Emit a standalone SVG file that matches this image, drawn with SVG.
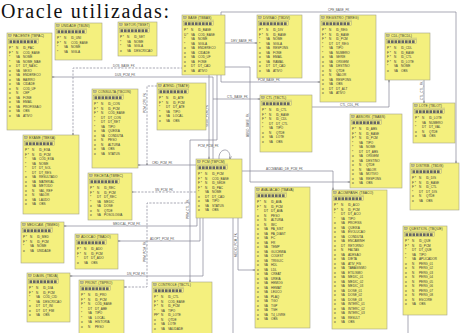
<svg xmlns="http://www.w3.org/2000/svg" xmlns:xlink="http://www.w3.org/1999/xlink" width="468" height="333" viewBox="0 0 468 333">
<style>
.bx{fill:#f4f07e;stroke:#a3a38a;stroke-width:.6}
.ti{font:3.4px "Liberation Sans",sans-serif;fill:#3a3a3a}
.r{font:3.1px "Liberation Sans",sans-serif;fill:#3a3a3a}
.c{fill:none;stroke:#858595;stroke-width:.7}
.d{stroke-dasharray:2.2 1.3}
.lb{font:3px "Liberation Sans",sans-serif;fill:#555}
</style>
<defs>
<marker id="a" viewBox="0 0 6 6" refX="6" refY="3" markerWidth="4" markerHeight="4" orient="auto"><path d="M0 0L6 3L0 6" fill="none" stroke="#666" stroke-width="1"/></marker>
<g id="ic">
<rect x="1.5" y="1.2" width="3" height="2.6" fill="#bdbd90" stroke="#777" stroke-width=".3"/>
<path d="M1.5 5.2H32" stroke="#888" stroke-width=".35"/>
<rect x="1.5" y="6.6" width="30" height="4.2" fill="none" stroke="#888" stroke-width=".35"/>
<g fill="#666"><rect x="2.5" y="7.3" width="2.6" height="2.8"/><rect x="6" y="7.3" width="2.6" height="2.8"/><rect x="9.5" y="7.3" width="2.6" height="2.8"/><rect x="13" y="7.3" width="2.6" height="2.8"/><rect x="16.5" y="7.3" width="2.6" height="2.8"/><rect x="20" y="7.3" width="2.6" height="2.8"/><rect x="23.5" y="7.3" width="2.6" height="2.8"/><rect x="27" y="7.3" width="2.6" height="2.8"/></g>
</g>
</defs>
<rect width="468" height="333" fill="#fff"/>
<text x="1" y="18" textLength="168" lengthAdjust="spacing" style="font:20px 'Liberation Serif',serif" fill="#111">Oracle utilizadas:</text>

<g id="connectors">
<path class="c" marker-end="url(#a)" d="M225 43H257"/><text class="lb" x="231" y="41.5">DEV_BASE_FK</text>
<path class="c" marker-end="url(#a)" d="M221 15V12H456V163"/><text class="lb" x="328" y="10.5">CPE_BASE_FK</text>
<path class="c" marker-end="url(#a)" d="M221 75V82H320"/><text class="lb" x="258" y="80.5">PCM_BASE_FK</text>
<path class="c" marker-end="url(#a)" d="M225 67H250V182H350"/><text class="lb" transform="translate(248.5 137) rotate(-90)">ABSO_BASE_FK</text>
<path class="c" marker-end="url(#a)" d="M213 159V77H52"/><text class="lb" x="115" y="75.5">DUS_PCM_FK</text>
<path class="c d" marker-end="url(#a)" d="M183 68H73V135"/><text class="lb" x="113" y="66.5">DOS_BASE_FK</text>
<path class="c" marker-end="url(#a)" d="M213 99H260"/><text class="lb" x="227" y="97.5">CTL_BASE_FK</text>
<path class="c" marker-end="url(#a)" d="M209 75V159"/><text class="lb" transform="translate(207.5 127) rotate(-90)">SEDE_PCM_FK</text>
<path class="c" marker-end="url(#a)" d="M217 75V140H190V282"/><text class="lb" transform="translate(188.5 219) rotate(-90)">PRM_CTL_FK</text>
<path class="c" marker-end="url(#a)" d="M312 107H389V80"/><text class="lb" x="340" y="105.5">CTL_CDL_FK</text>
<path class="c" marker-end="url(#a)" d="M424 80V103"/><text class="lb" transform="translate(422.5 100) rotate(-90)">CTL_CTL_FK</text>
<path class="c" marker-end="url(#a)" d="M242 171H333V190"/><text class="lb" x="266" y="169.5">ACCMANAD_DE_PCM_FK</text>
<path class="c" marker-end="url(#a)" d="M219 159C218 148 231 146 230 159"/><text class="lb" x="198" y="146.5">PCM_PCM_FK</text>
<path class="c d" marker-end="url(#a)" d="M157 86H147V165"/><text class="lb" transform="translate(145.5 113) rotate(-90)">PCM_CPE_FK</text>
<path class="c" marker-end="url(#a)" d="M196 165H138"/><text class="lb" x="152" y="163.5">CRD_PCM_FK</text>
<path class="c d" marker-end="url(#a)" d="M196 192H132"/><text class="lb" x="155" y="190.5">SN_PCM_FK</text>
<path class="c" marker-end="url(#a)" d="M197 218V226H64"/><text class="lb" x="113" y="224.5">MEDICAL_PCM_FK</text>
<path class="c" marker-end="url(#a)" d="M200 218V241H118"/><text class="lb" x="150" y="239.5">ADOPT_PCM_FK</text>
<path class="c" marker-end="url(#a)" d="M203 218V276H70"/><text class="lb" x="127" y="274.5">DN_PCM_FK</text>
<path class="c d" marker-end="url(#a)" d="M190 203H147V287H124"/><text class="lb" transform="translate(145.5 262) rotate(-90)">PRM_PCM_FK</text>
<path class="c" marker-end="url(#a)" d="M238 218V270H255"/><text class="lb" transform="translate(236.5 257) rotate(-90)">MEDIO_PCM_FK</text>
<path class="c" d="M233 218V333"/>
<path class="c" d="M408 315V333"/>
</g>

<g id="tbpac" transform="translate(7,33)"><rect class="bx" width="45" height="97"/><use href="#ic"/><text class="ti" x="6" y="4.2">PACIENTE (TBPAC)</text>
<text class="r" x="2" y="16">P *<tspan x="2" dy="4.5">F *</tspan><tspan x="2" dy="4.5">*</tspan><tspan x="2" dy="4.5">*</tspan><tspan x="2" dy="4.5">o</tspan><tspan x="2" dy="4.5">o</tspan><tspan x="2" dy="4.5">o</tspan><tspan x="2" dy="4.5">o</tspan><tspan x="2" dy="4.5">o</tspan><tspan x="2" dy="4.5">o</tspan><tspan x="2" dy="4.5">o</tspan><tspan x="2" dy="4.5">o</tspan><tspan x="2" dy="4.5">o</tspan><tspan x="2" dy="4.5">o</tspan><tspan x="2" dy="4.5">o</tspan><tspan x="2" dy="4.5">o</tspan></text>
<text class="r" x="9" y="16">N<tspan x="9" dy="4.5">N</tspan><tspan x="9" dy="4.5">VA</tspan><tspan x="9" dy="4.5">VA</tspan><tspan x="9" dy="4.5">DT</tspan><tspan x="9" dy="4.5">VA</tspan><tspan x="9" dy="4.5">VA</tspan><tspan x="9" dy="4.5">VA</tspan><tspan x="9" dy="4.5">VA</tspan><tspan x="9" dy="4.5">N</tspan><tspan x="9" dy="4.5">N</tspan><tspan x="9" dy="4.5">VA</tspan><tspan x="9" dy="4.5">VA</tspan><tspan x="9" dy="4.5">VA</tspan><tspan x="9" dy="4.5">VA</tspan><tspan x="9" dy="4.5">VA</tspan></text>
<text class="r" x="16" y="16">ID_PAC<tspan x="16" dy="4.5">COD_BASE</tspan><tspan x="16" dy="4.5">NOME</tspan><tspan x="16" dy="4.5">NOME_MAE</tspan><tspan x="16" dy="4.5">DT_NASC</tspan><tspan x="16" dy="4.5">SEXO</tspan><tspan x="16" dy="4.5">ENDERECO</tspan><tspan x="16" dy="4.5">BAIRRO</tspan><tspan x="16" dy="4.5">CIDADE</tspan><tspan x="16" dy="4.5">COD_UF</tspan><tspan x="16" dy="4.5">CEP</tspan><tspan x="16" dy="4.5">FONE</tspan><tspan x="16" dy="4.5">EMAIL</tspan><tspan x="16" dy="4.5">PROFISSAO</tspan><tspan x="16" dy="4.5">OBS</tspan><tspan x="16" dy="4.5">ATIVO</tspan></text></g>

<g id="tbuni" transform="translate(55,23)"><rect class="bx" width="47" height="37"/><use href="#ic"/><text class="ti" x="6" y="4.2">UNIDADE (TBUNI)</text>
<text class="r" x="2" y="16">P *<tspan x="2" dy="4.5">F *</tspan><tspan x="2" dy="4.5">*</tspan><tspan x="2" dy="4.5">*</tspan></text>
<text class="r" x="9" y="16">N<tspan x="9" dy="4.5">N</tspan><tspan x="9" dy="4.5">VA</tspan><tspan x="9" dy="4.5">VA</tspan></text>
<text class="r" x="16" y="16">ID_UNI<tspan x="16" dy="4.5">COD_BASE</tspan><tspan x="16" dy="4.5">NOME</tspan><tspan x="16" dy="4.5">SIGLA</tspan></text></g>

<g id="tbset" transform="translate(118,22)"><rect class="bx" width="39" height="34"/><use href="#ic"/><text class="ti" x="6" y="4.2">SETOR (TBSET)</text>
<text class="r" x="2" y="16">P *<tspan x="2" dy="4.5">*</tspan><tspan x="2" dy="4.5">*</tspan><tspan x="2" dy="4.5">o</tspan></text>
<text class="r" x="9" y="16">N<tspan x="9" dy="4.5">VA</tspan><tspan x="9" dy="4.5">VA</tspan><tspan x="9" dy="4.5">VA</tspan></text>
<text class="r" x="16" y="16">ID_SET<tspan x="16" dy="4.5">NOME</tspan><tspan x="16" dy="4.5">SIGLA</tspan><tspan x="16" dy="4.5">DESCRICAO</tspan></text></g>

<g id="tbcon" transform="translate(92,89)"><rect class="bx" width="46" height="79"/><use href="#ic"/><text class="ti" x="6" y="4.2">CONSULTA (TBCON)</text>
<text class="r" x="2" y="16">P *<tspan x="2" dy="4.5">F *</tspan><tspan x="2" dy="4.5">F *</tspan><tspan x="2" dy="4.5">*</tspan><tspan x="2" dy="4.5">*</tspan><tspan x="2" dy="4.5">*</tspan><tspan x="2" dy="4.5">o</tspan><tspan x="2" dy="4.5">o</tspan><tspan x="2" dy="4.5">o</tspan><tspan x="2" dy="4.5">o</tspan><tspan x="2" dy="4.5">o</tspan><tspan x="2" dy="4.5">o</tspan></text>
<text class="r" x="9" y="16">N<tspan x="9" dy="4.5">N</tspan><tspan x="9" dy="4.5">N</tspan><tspan x="9" dy="4.5">DT</tspan><tspan x="9" dy="4.5">DT</tspan><tspan x="9" dy="4.5">VA</tspan><tspan x="9" dy="4.5">VA</tspan><tspan x="9" dy="4.5">VA</tspan><tspan x="9" dy="4.5">N</tspan><tspan x="9" dy="4.5">N</tspan><tspan x="9" dy="4.5">VA</tspan><tspan x="9" dy="4.5">VA</tspan></text>
<text class="r" x="16" y="16">ID_CON<tspan x="16" dy="4.5">ID_PCM</tspan><tspan x="16" dy="4.5">COD_BASE</tspan><tspan x="16" dy="4.5">DT_CON</tspan><tspan x="16" dy="4.5">DT_RET</tspan><tspan x="16" dy="4.5">TIPO</tspan><tspan x="16" dy="4.5">QUEIXA</tspan><tspan x="16" dy="4.5">CONDUTA</tspan><tspan x="16" dy="4.5">PESO</tspan><tspan x="16" dy="4.5">ALTURA</tspan><tspan x="16" dy="4.5">OBS</tspan><tspan x="16" dy="4.5">STATUS</tspan></text></g>

<g id="tbexa" transform="translate(23,135)"><rect class="bx" width="56" height="79"/><use href="#ic"/><text class="ti" x="6" y="4.2">EXAME (TBEXA)</text>
<text class="r" x="2" y="16">P *<tspan x="2" dy="4.5">F *</tspan><tspan x="2" dy="4.5">*</tspan><tspan x="2" dy="4.5">*</tspan><tspan x="2" dy="4.5">*</tspan><tspan x="2" dy="4.5">*</tspan><tspan x="2" dy="4.5">o</tspan><tspan x="2" dy="4.5">o</tspan><tspan x="2" dy="4.5">o</tspan><tspan x="2" dy="4.5">o</tspan><tspan x="2" dy="4.5">o</tspan><tspan x="2" dy="4.5">o</tspan><tspan x="2" dy="4.5">o</tspan></text>
<text class="r" x="9" y="16">N<tspan x="9" dy="4.5">N</tspan><tspan x="9" dy="4.5">VA</tspan><tspan x="9" dy="4.5">VA</tspan><tspan x="9" dy="4.5">DT</tspan><tspan x="9" dy="4.5">DT</tspan><tspan x="9" dy="4.5">VA</tspan><tspan x="9" dy="4.5">VA</tspan><tspan x="9" dy="4.5">VA</tspan><tspan x="9" dy="4.5">N</tspan><tspan x="9" dy="4.5">N</tspan><tspan x="9" dy="4.5">VA</tspan><tspan x="9" dy="4.5">VA</tspan></text>
<text class="r" x="16" y="16">ID_EXA<tspan x="16" dy="4.5">ID_PCM</tspan><tspan x="16" dy="4.5">COD_EXA</tspan><tspan x="16" dy="4.5">NOME</tspan><tspan x="16" dy="4.5">DT_SOL</tspan><tspan x="16" dy="4.5">DT_RES</tspan><tspan x="16" dy="4.5">RESULTADO</tspan><tspan x="16" dy="4.5">MATERIAL</tspan><tspan x="16" dy="4.5">METODO</tspan><tspan x="16" dy="4.5">VAL_REF</tspan><tspan x="16" dy="4.5">VALOR</tspan><tspan x="16" dy="4.5">LAUDO</tspan><tspan x="16" dy="4.5">OBS</tspan></text></g>

<g id="tbrec" transform="translate(88,173)"><rect class="bx" width="44" height="47"/><use href="#ic"/><text class="ti" x="6" y="4.2">RECEITA (TBREC)</text>
<text class="r" x="2" y="16">P *<tspan x="2" dy="4.5">F *</tspan><tspan x="2" dy="4.5">*</tspan><tspan x="2" dy="4.5">*</tspan><tspan x="2" dy="4.5">o</tspan><tspan x="2" dy="4.5">o</tspan><tspan x="2" dy="4.5">o</tspan></text>
<text class="r" x="9" y="16">N<tspan x="9" dy="4.5">N</tspan><tspan x="9" dy="4.5">DT</tspan><tspan x="9" dy="4.5">VA</tspan><tspan x="9" dy="4.5">VA</tspan><tspan x="9" dy="4.5">N</tspan><tspan x="9" dy="4.5">VA</tspan></text>
<text class="r" x="16" y="16">ID_REC<tspan x="16" dy="4.5">ID_PCM</tspan><tspan x="16" dy="4.5">DT_REC</tspan><tspan x="16" dy="4.5">MEDIC</tspan><tspan x="16" dy="4.5">DOSE</tspan><tspan x="16" dy="4.5">QTDE</tspan><tspan x="16" dy="4.5">POSOLOGIA</tspan></text></g>

<g id="tbmed" transform="translate(21,222)"><rect class="bx" width="43" height="41"/><use href="#ic"/><text class="ti" x="6" y="4.2">MEDICAM. (TBMED)</text>
<text class="r" x="2" y="16">P *<tspan x="2" dy="4.5">F *</tspan><tspan x="2" dy="4.5">*</tspan><tspan x="2" dy="4.5">o</tspan></text>
<text class="r" x="9" y="16">N<tspan x="9" dy="4.5">N</tspan><tspan x="9" dy="4.5">VA</tspan><tspan x="9" dy="4.5">VA</tspan></text>
<text class="r" x="16" y="16">ID_MED<tspan x="16" dy="4.5">ID_PCM</tspan><tspan x="16" dy="4.5">NOME</tspan><tspan x="16" dy="4.5">UNIDADE</tspan></text></g>

<g id="tbado" transform="translate(75,234)"><rect class="bx" width="43" height="35"/><use href="#ic"/><text class="ti" x="6" y="4.2">ADOCAO (TBADO)</text>
<text class="r" x="2" y="16">P *<tspan x="2" dy="4.5">F *</tspan><tspan x="2" dy="4.5">*</tspan><tspan x="2" dy="4.5">o</tspan></text>
<text class="r" x="9" y="16">N<tspan x="9" dy="4.5">N</tspan><tspan x="9" dy="4.5">DT</tspan><tspan x="9" dy="4.5">VA</tspan></text>
<text class="r" x="16" y="16">ID_ADO<tspan x="16" dy="4.5">ID_PCM</tspan><tspan x="16" dy="4.5">DT_ADO</tspan><tspan x="16" dy="4.5">OBS</tspan></text></g>

<g id="tbdia" transform="translate(27,273)"><rect class="bx" width="43" height="49"/><use href="#ic"/><text class="ti" x="6" y="4.2">DIAGN. (TBDIA)</text>
<text class="r" x="2" y="16">P *<tspan x="2" dy="4.5">F *</tspan><tspan x="2" dy="4.5">*</tspan><tspan x="2" dy="4.5">*</tspan><tspan x="2" dy="4.5">o</tspan><tspan x="2" dy="4.5">o</tspan><tspan x="2" dy="4.5">o</tspan></text>
<text class="r" x="9" y="16">N<tspan x="9" dy="4.5">N</tspan><tspan x="9" dy="4.5">VA</tspan><tspan x="9" dy="4.5">VA</tspan><tspan x="9" dy="4.5">DT</tspan><tspan x="9" dy="4.5">DT</tspan><tspan x="9" dy="4.5">VA</tspan></text>
<text class="r" x="16" y="16">ID_DIA<tspan x="16" dy="4.5">ID_PCM</tspan><tspan x="16" dy="4.5">COD_CID</tspan><tspan x="16" dy="4.5">DESCRICAO</tspan><tspan x="16" dy="4.5">DT_INI</tspan><tspan x="16" dy="4.5">DT_FIM</tspan><tspan x="16" dy="4.5">OBS</tspan></text></g>

<g id="tbpro" transform="translate(79,280)"><rect class="bx" width="45" height="58"/><use href="#ic"/><text class="ti" x="6" y="4.2">PRONT. (TBPRO)</text>
<text class="r" x="2" y="16">P *<tspan x="2" dy="4.5">F *</tspan><tspan x="2" dy="4.5">F *</tspan><tspan x="2" dy="4.5">*</tspan><tspan x="2" dy="4.5">*</tspan><tspan x="2" dy="4.5">*</tspan><tspan x="2" dy="4.5">o</tspan><tspan x="2" dy="4.5">o</tspan></text>
<text class="r" x="9" y="16">N<tspan x="9" dy="4.5">N</tspan><tspan x="9" dy="4.5">N</tspan><tspan x="9" dy="4.5">DT</tspan><tspan x="9" dy="4.5">VA</tspan><tspan x="9" dy="4.5">VA</tspan><tspan x="9" dy="4.5">VA</tspan><tspan x="9" dy="4.5">N</tspan></text>
<text class="r" x="16" y="16">ID_PRO<tspan x="16" dy="4.5">ID_PCM</tspan><tspan x="16" dy="4.5">COD_BASE</tspan><tspan x="16" dy="4.5">DT_ABE</tspan><tspan x="16" dy="4.5">TIPO</tspan><tspan x="16" dy="4.5">LOCAL</tspan><tspan x="16" dy="4.5">HISTORIA</tspan><tspan x="16" dy="4.5">PESO</tspan></text></g>

<g id="tbctl2" transform="translate(152,282)"><rect class="bx" width="60" height="56"/><use href="#ic"/><text class="ti" x="6" y="4.2">CONTROLE (TBCTL)</text>
<text class="r" x="2" y="16">P *<tspan x="2" dy="4.5">F *</tspan><tspan x="2" dy="4.5">F *</tspan><tspan x="2" dy="4.5">*</tspan><tspan x="2" dy="4.5">PF*</tspan><tspan x="2" dy="4.5">o</tspan><tspan x="2" dy="4.5">o</tspan><tspan x="2" dy="4.5">o</tspan></text>
<text class="r" x="9" y="16">N<tspan x="9" dy="4.5">N</tspan><tspan x="9" dy="4.5">N</tspan><tspan x="9" dy="4.5">VA</tspan><tspan x="9" dy="4.5">N</tspan><tspan x="9" dy="4.5">N</tspan><tspan x="9" dy="4.5">VA</tspan><tspan x="9" dy="4.5">VA</tspan></text>
<text class="r" x="16" y="16">ID_CTL<tspan x="16" dy="4.5">COD_BASE</tspan><tspan x="16" dy="4.5">ID_PCM</tspan><tspan x="16" dy="4.5">TIPO</tspan><tspan x="16" dy="4.5">ID_LOTE</tspan><tspan x="16" dy="4.5">QTDE</tspan><tspan x="16" dy="4.5">LOTE</tspan><tspan x="16" dy="4.5">VALIDADE</tspan></text></g>

<g id="tbbas" transform="translate(182,15)"><rect class="bx" width="43" height="60"/><use href="#ic"/><text class="ti" x="6" y="4.2">BASE (TBBAS)</text>
<text class="r" x="2" y="16">P *<tspan x="2" dy="4.5">U *</tspan><tspan x="2" dy="4.5">*</tspan><tspan x="2" dy="4.5">*</tspan><tspan x="2" dy="4.5">o</tspan><tspan x="2" dy="4.5">o</tspan><tspan x="2" dy="4.5">o</tspan><tspan x="2" dy="4.5">o</tspan><tspan x="2" dy="4.5">o</tspan><tspan x="2" dy="4.5">o</tspan></text>
<text class="r" x="9" y="16">N<tspan x="9" dy="4.5">VA</tspan><tspan x="9" dy="4.5">VA</tspan><tspan x="9" dy="4.5">VA</tspan><tspan x="9" dy="4.5">VA</tspan><tspan x="9" dy="4.5">VA</tspan><tspan x="9" dy="4.5">VA</tspan><tspan x="9" dy="4.5">VA</tspan><tspan x="9" dy="4.5">DT</tspan><tspan x="9" dy="4.5">VA</tspan></text>
<text class="r" x="16" y="16">ID_BASE<tspan x="16" dy="4.5">COD_BASE</tspan><tspan x="16" dy="4.5">NOME</tspan><tspan x="16" dy="4.5">SIGLA</tspan><tspan x="16" dy="4.5">ENDERECO</tspan><tspan x="16" dy="4.5">CIDADE</tspan><tspan x="16" dy="4.5">COD_UF</tspan><tspan x="16" dy="4.5">FONE</tspan><tspan x="16" dy="4.5">DT_CAD</tspan><tspan x="16" dy="4.5">ATIVO</tspan></text></g>

<g id="tbdiv" transform="translate(257,15)"><rect class="bx" width="45" height="63"/><use href="#ic"/><text class="ti" x="6" y="4.2">DIVISAO (TBDIV)</text>
<text class="r" x="2" y="16">P *<tspan x="2" dy="4.5">F *</tspan><tspan x="2" dy="4.5">*</tspan><tspan x="2" dy="4.5">*</tspan><tspan x="2" dy="4.5">o</tspan><tspan x="2" dy="4.5">o</tspan><tspan x="2" dy="4.5">o</tspan><tspan x="2" dy="4.5">o</tspan><tspan x="2" dy="4.5">o</tspan><tspan x="2" dy="4.5">o</tspan></text>
<text class="r" x="9" y="16">N<tspan x="9" dy="4.5">N</tspan><tspan x="9" dy="4.5">VA</tspan><tspan x="9" dy="4.5">VA</tspan><tspan x="9" dy="4.5">VA</tspan><tspan x="9" dy="4.5">VA</tspan><tspan x="9" dy="4.5">VA</tspan><tspan x="9" dy="4.5">VA</tspan><tspan x="9" dy="4.5">DT</tspan><tspan x="9" dy="4.5">VA</tspan></text>
<text class="r" x="16" y="16">ID_DIV<tspan x="16" dy="4.5">ID_BASE</tspan><tspan x="16" dy="4.5">NOME</tspan><tspan x="16" dy="4.5">SIGLA</tspan><tspan x="16" dy="4.5">RESPONS</tspan><tspan x="16" dy="4.5">FONE</tspan><tspan x="16" dy="4.5">EMAIL</tspan><tspan x="16" dy="4.5">RAMAL</tspan><tspan x="16" dy="4.5">DT_CAD</tspan><tspan x="16" dy="4.5">ATIVO</tspan></text></g>

<g id="tbate" transform="translate(157,83)"><rect class="bx" width="49" height="47"/><use href="#ic"/><text class="ti" x="6" y="4.2">ATEND. (TBATE)</text>
<text class="r" x="2" y="16">P *<tspan x="2" dy="4.5">F *</tspan><tspan x="2" dy="4.5">*</tspan><tspan x="2" dy="4.5">*</tspan><tspan x="2" dy="4.5">o</tspan><tspan x="2" dy="4.5">o</tspan></text>
<text class="r" x="9" y="16">N<tspan x="9" dy="4.5">N</tspan><tspan x="9" dy="4.5">DT</tspan><tspan x="9" dy="4.5">VA</tspan><tspan x="9" dy="4.5">VA</tspan><tspan x="9" dy="4.5">VA</tspan></text>
<text class="r" x="16" y="16">ID_ATE<tspan x="16" dy="4.5">ID_PCM</tspan><tspan x="16" dy="4.5">DT_ATE</tspan><tspan x="16" dy="4.5">TIPO</tspan><tspan x="16" dy="4.5">LOCAL</tspan><tspan x="16" dy="4.5">OBS</tspan></text></g>

<g id="tbctl" transform="translate(260,95)"><rect class="bx" width="52" height="57"/><use href="#ic"/><text class="ti" x="6" y="4.2">CTL (TBCTL)</text>
<text class="r" x="2" y="16">P *<tspan x="2" dy="4.5">F *</tspan><tspan x="2" dy="4.5">F *</tspan><tspan x="2" dy="4.5">*</tspan><tspan x="2" dy="4.5">*</tspan><tspan x="2" dy="4.5">o</tspan><tspan x="2" dy="4.5">o</tspan><tspan x="2" dy="4.5">o</tspan></text>
<text class="r" x="9" y="16">N<tspan x="9" dy="4.5">N</tspan><tspan x="9" dy="4.5">N</tspan><tspan x="9" dy="4.5">DT</tspan><tspan x="9" dy="4.5">VA</tspan><tspan x="9" dy="4.5">N</tspan><tspan x="9" dy="4.5">VA</tspan><tspan x="9" dy="4.5">VA</tspan></text>
<text class="r" x="16" y="16">ID_CTL<tspan x="16" dy="4.5">ID_BASE</tspan><tspan x="16" dy="4.5">ID_CDL</tspan><tspan x="16" dy="4.5">DT_CTL</tspan><tspan x="16" dy="4.5">TIPO</tspan><tspan x="16" dy="4.5">QTDE</tspan><tspan x="16" dy="4.5">LOTE</tspan><tspan x="16" dy="4.5">OBS</tspan></text></g>

<g id="tbpcm" transform="translate(196,159)"><rect class="bx" width="46" height="59"/><use href="#ic"/><text class="ti" x="6" y="4.2">PCM (TBPCM)</text>
<text class="r" x="2" y="16">P *<tspan x="2" dy="4.5">F *</tspan><tspan x="2" dy="4.5">F *</tspan><tspan x="2" dy="4.5">F *</tspan><tspan x="2" dy="4.5">*</tspan><tspan x="2" dy="4.5">o</tspan><tspan x="2" dy="4.5">o</tspan><tspan x="2" dy="4.5">o</tspan><tspan x="2" dy="4.5">o</tspan></text>
<text class="r" x="9" y="16">N<tspan x="9" dy="4.5">N</tspan><tspan x="9" dy="4.5">N</tspan><tspan x="9" dy="4.5">N</tspan><tspan x="9" dy="4.5">VA</tspan><tspan x="9" dy="4.5">DT</tspan><tspan x="9" dy="4.5">VA</tspan><tspan x="9" dy="4.5">VA</tspan><tspan x="9" dy="4.5">VA</tspan></text>
<text class="r" x="16" y="16">ID_PCM<tspan x="16" dy="4.5">COD_BASE</tspan><tspan x="16" dy="4.5">ID_SEDE</tspan><tspan x="16" dy="4.5">ID_PAC</tspan><tspan x="16" dy="4.5">NOME</tspan><tspan x="16" dy="4.5">DT_CAD</tspan><tspan x="16" dy="4.5">TIPO</tspan><tspan x="16" dy="4.5">STATUS</tspan><tspan x="16" dy="4.5">OBS</tspan></text></g>

<g id="tbava" transform="translate(255,187)"><rect class="bx" width="55" height="141"/><use href="#ic"/><text class="ti" x="6" y="4.2">AVALIACAO (TBAVA)</text>
<text class="r" x="2" y="16">P *<tspan x="2" dy="4.5">F *</tspan><tspan x="2" dy="4.5">*</tspan><tspan x="2" dy="4.5">o</tspan><tspan x="2" dy="4.5">o</tspan><tspan x="2" dy="4.5">o</tspan><tspan x="2" dy="4.5">o</tspan><tspan x="2" dy="4.5">o</tspan><tspan x="2" dy="4.5">o</tspan><tspan x="2" dy="4.5">o</tspan><tspan x="2" dy="4.5">o</tspan><tspan x="2" dy="4.5">o</tspan><tspan x="2" dy="4.5">o</tspan><tspan x="2" dy="4.5">o</tspan><tspan x="2" dy="4.5">o</tspan><tspan x="2" dy="4.5">o</tspan><tspan x="2" dy="4.5">o</tspan><tspan x="2" dy="4.5">o</tspan><tspan x="2" dy="4.5">o</tspan><tspan x="2" dy="4.5">o</tspan><tspan x="2" dy="4.5">o</tspan><tspan x="2" dy="4.5">o</tspan><tspan x="2" dy="4.5">o</tspan><tspan x="2" dy="4.5">o</tspan><tspan x="2" dy="4.5">o</tspan><tspan x="2" dy="4.5">o</tspan><tspan x="2" dy="4.5">o</tspan></text>
<text class="r" x="9" y="16">N<tspan x="9" dy="4.5">N</tspan><tspan x="9" dy="4.5">DT</tspan><tspan x="9" dy="4.5">N</tspan><tspan x="9" dy="4.5">N</tspan><tspan x="9" dy="4.5">N</tspan><tspan x="9" dy="4.5">VA</tspan><tspan x="9" dy="4.5">VA</tspan><tspan x="9" dy="4.5">VA</tspan><tspan x="9" dy="4.5">VA</tspan><tspan x="9" dy="4.5">VA</tspan><tspan x="9" dy="4.5">VA</tspan><tspan x="9" dy="4.5">VA</tspan><tspan x="9" dy="4.5">VA</tspan><tspan x="9" dy="4.5">VA</tspan><tspan x="9" dy="4.5">VA</tspan><tspan x="9" dy="4.5">VA</tspan><tspan x="9" dy="4.5">VA</tspan><tspan x="9" dy="4.5">VA</tspan><tspan x="9" dy="4.5">VA</tspan><tspan x="9" dy="4.5">VA</tspan><tspan x="9" dy="4.5">VA</tspan><tspan x="9" dy="4.5">VA</tspan><tspan x="9" dy="4.5">VA</tspan><tspan x="9" dy="4.5">VA</tspan><tspan x="9" dy="4.5">VA</tspan><tspan x="9" dy="4.5">VA</tspan></text>
<text class="r" x="16" y="16">ID_AVA<tspan x="16" dy="4.5">ID_PCM</tspan><tspan x="16" dy="4.5">DT_AVA</tspan><tspan x="16" dy="4.5">PESO</tspan><tspan x="16" dy="4.5">ALTURA</tspan><tspan x="16" dy="4.5">IMC</tspan><tspan x="16" dy="4.5">PA_SIST</tspan><tspan x="16" dy="4.5">PA_DIAST</tspan><tspan x="16" dy="4.5">FC</tspan><tspan x="16" dy="4.5">FR</tspan><tspan x="16" dy="4.5">TEMP</tspan><tspan x="16" dy="4.5">GLICEMIA</tspan><tspan x="16" dy="4.5">COLEST</tspan><tspan x="16" dy="4.5">TRIGLIC</tspan><tspan x="16" dy="4.5">HDL</tspan><tspan x="16" dy="4.5">LDL</tspan><tspan x="16" dy="4.5">CREAT</tspan><tspan x="16" dy="4.5">UREIA</tspan><tspan x="16" dy="4.5">HEMOG</tspan><tspan x="16" dy="4.5">HEMAT</tspan><tspan x="16" dy="4.5">LEUCO</tspan><tspan x="16" dy="4.5">PLAQ</tspan><tspan x="16" dy="4.5">TGO</tspan><tspan x="16" dy="4.5">TGP</tspan><tspan x="16" dy="4.5">TSH</tspan><tspan x="16" dy="4.5">T4_LIVRE</tspan><tspan x="16" dy="4.5">OBS</tspan></text></g>

<g id="tbreg" transform="translate(320,15)"><rect class="bx" width="56" height="87"/><use href="#ic"/><text class="ti" x="6" y="4.2">REGISTRO (TBREG)</text>
<text class="r" x="2" y="16">P *<tspan x="2" dy="4.5">F *</tspan><tspan x="2" dy="4.5">F *</tspan><tspan x="2" dy="4.5">*</tspan><tspan x="2" dy="4.5">*</tspan><tspan x="2" dy="4.5">*</tspan><tspan x="2" dy="4.5">o</tspan><tspan x="2" dy="4.5">o</tspan><tspan x="2" dy="4.5">o</tspan><tspan x="2" dy="4.5">o</tspan><tspan x="2" dy="4.5">o</tspan><tspan x="2" dy="4.5">o</tspan><tspan x="2" dy="4.5">o</tspan><tspan x="2" dy="4.5">o</tspan><tspan x="2" dy="4.5">o</tspan></text>
<text class="r" x="9" y="16">N<tspan x="9" dy="4.5">N</tspan><tspan x="9" dy="4.5">N</tspan><tspan x="9" dy="4.5">DT</tspan><tspan x="9" dy="4.5">VA</tspan><tspan x="9" dy="4.5">VA</tspan><tspan x="9" dy="4.5">VA</tspan><tspan x="9" dy="4.5">VA</tspan><tspan x="9" dy="4.5">VA</tspan><tspan x="9" dy="4.5">N</tspan><tspan x="9" dy="4.5">N</tspan><tspan x="9" dy="4.5">VA</tspan><tspan x="9" dy="4.5">VA</tspan><tspan x="9" dy="4.5">DT</tspan><tspan x="9" dy="4.5">VA</tspan></text>
<text class="r" x="16" y="16">ID_REG<tspan x="16" dy="4.5">ID_BASE</tspan><tspan x="16" dy="4.5">ID_PCM</tspan><tspan x="16" dy="4.5">DT_REG</tspan><tspan x="16" dy="4.5">TIPO</tspan><tspan x="16" dy="4.5">NUMERO</tspan><tspan x="16" dy="4.5">SERIE</tspan><tspan x="16" dy="4.5">ORIGEM</tspan><tspan x="16" dy="4.5">DESTINO</tspan><tspan x="16" dy="4.5">QTDE</tspan><tspan x="16" dy="4.5">VALOR</tspan><tspan x="16" dy="4.5">RESPONS</tspan><tspan x="16" dy="4.5">OBS</tspan><tspan x="16" dy="4.5">DT_ALT</tspan><tspan x="16" dy="4.5">ATIVO</tspan></text></g>

<g id="tbcdl" transform="translate(385,33)"><rect class="bx" width="45" height="47"/><use href="#ic"/><text class="ti" x="6" y="4.2">CDL (TBCDL)</text>
<text class="r" x="2" y="16">P *<tspan x="2" dy="4.5">F *</tspan><tspan x="2" dy="4.5">F *</tspan><tspan x="2" dy="4.5">F *</tspan><tspan x="2" dy="4.5">*</tspan><tspan x="2" dy="4.5">o</tspan></text>
<text class="r" x="9" y="16">N<tspan x="9" dy="4.5">N</tspan><tspan x="9" dy="4.5">N</tspan><tspan x="9" dy="4.5">N</tspan><tspan x="9" dy="4.5">VA</tspan><tspan x="9" dy="4.5">VA</tspan></text>
<text class="r" x="16" y="16">ID_CDL<tspan x="16" dy="4.5">ID_BASE</tspan><tspan x="16" dy="4.5">ID_CTL</tspan><tspan x="16" dy="4.5">ID_LOTE</tspan><tspan x="16" dy="4.5">NOME</tspan><tspan x="16" dy="4.5">OBS</tspan></text></g>

<g id="tblot" transform="translate(413,103)"><rect class="bx" width="42" height="40"/><use href="#ic"/><text class="ti" x="6" y="4.2">LOTE (TBLOT)</text>
<text class="r" x="2" y="16">P *<tspan x="2" dy="4.5">*</tspan><tspan x="2" dy="4.5">*</tspan><tspan x="2" dy="4.5">o</tspan><tspan x="2" dy="4.5">o</tspan></text>
<text class="r" x="9" y="16">N<tspan x="9" dy="4.5">VA</tspan><tspan x="9" dy="4.5">DT</tspan><tspan x="9" dy="4.5">N</tspan><tspan x="9" dy="4.5">VA</tspan></text>
<text class="r" x="16" y="16">ID_LOTE<tspan x="16" dy="4.5">NUMERO</tspan><tspan x="16" dy="4.5">DT_VAL</tspan><tspan x="16" dy="4.5">QTDE</tspan><tspan x="16" dy="4.5">OBS</tspan></text></g>

<g id="tbabs" transform="translate(350,114)"><rect class="bx" width="52" height="74"/><use href="#ic"/><text class="ti" x="6" y="4.2">ABSORV. (TBABS)</text>
<text class="r" x="2" y="16">P *<tspan x="2" dy="4.5">F *</tspan><tspan x="2" dy="4.5">F *</tspan><tspan x="2" dy="4.5">*</tspan><tspan x="2" dy="4.5">*</tspan><tspan x="2" dy="4.5">*</tspan><tspan x="2" dy="4.5">o</tspan><tspan x="2" dy="4.5">o</tspan><tspan x="2" dy="4.5">o</tspan><tspan x="2" dy="4.5">o</tspan><tspan x="2" dy="4.5">o</tspan><tspan x="2" dy="4.5">o</tspan><tspan x="2" dy="4.5">o</tspan></text>
<text class="r" x="9" y="16">N<tspan x="9" dy="4.5">N</tspan><tspan x="9" dy="4.5">N</tspan><tspan x="9" dy="4.5">VA</tspan><tspan x="9" dy="4.5">VA</tspan><tspan x="9" dy="4.5">DT</tspan><tspan x="9" dy="4.5">VA</tspan><tspan x="9" dy="4.5">VA</tspan><tspan x="9" dy="4.5">N</tspan><tspan x="9" dy="4.5">N</tspan><tspan x="9" dy="4.5">VA</tspan><tspan x="9" dy="4.5">VA</tspan><tspan x="9" dy="4.5">VA</tspan></text>
<text class="r" x="16" y="16">ID_ABS<tspan x="16" dy="4.5">ID_BASE</tspan><tspan x="16" dy="4.5">ID_PCM</tspan><tspan x="16" dy="4.5">TIPO</tspan><tspan x="16" dy="4.5">NOME</tspan><tspan x="16" dy="4.5">DT_ABS</tspan><tspan x="16" dy="4.5">ORIGEM</tspan><tspan x="16" dy="4.5">DESTINO</tspan><tspan x="16" dy="4.5">QTDE</tspan><tspan x="16" dy="4.5">VALOR</tspan><tspan x="16" dy="4.5">MOTIVO</tspan><tspan x="16" dy="4.5">RESPONS</tspan><tspan x="16" dy="4.5">OBS</tspan></text></g>

<g id="tbdis" transform="translate(410,163)"><rect class="bx" width="49" height="47"/><use href="#ic"/><text class="ti" x="6" y="4.2">DISTRIB. (TBDIS)</text>
<text class="r" x="2" y="16">P *<tspan x="2" dy="4.5">F *</tspan><tspan x="2" dy="4.5">F *</tspan><tspan x="2" dy="4.5">*</tspan><tspan x="2" dy="4.5">o</tspan><tspan x="2" dy="4.5">o</tspan></text>
<text class="r" x="9" y="16">N<tspan x="9" dy="4.5">N</tspan><tspan x="9" dy="4.5">N</tspan><tspan x="9" dy="4.5">DT</tspan><tspan x="9" dy="4.5">N</tspan><tspan x="9" dy="4.5">VA</tspan></text>
<text class="r" x="16" y="16">ID_DIS<tspan x="16" dy="4.5">ID_BASE</tspan><tspan x="16" dy="4.5">ID_CTL</tspan><tspan x="16" dy="4.5">DT_DIS</tspan><tspan x="16" dy="4.5">QTDE</tspan><tspan x="16" dy="4.5">OBS</tspan></text></g>

<g id="tbaco" transform="translate(332,190)"><rect class="bx" width="55" height="139"/><use href="#ic"/><text class="ti" x="6" y="4.2">ACOMPANH. (TBACO)</text>
<text class="r" x="2" y="16">P *<tspan x="2" dy="4.5">F *</tspan><tspan x="2" dy="4.5">*</tspan><tspan x="2" dy="4.5">*</tspan><tspan x="2" dy="4.5">o</tspan><tspan x="2" dy="4.5">o</tspan><tspan x="2" dy="4.5">o</tspan><tspan x="2" dy="4.5">o</tspan><tspan x="2" dy="4.5">o</tspan><tspan x="2" dy="4.5">o</tspan><tspan x="2" dy="4.5">o</tspan><tspan x="2" dy="4.5">o</tspan><tspan x="2" dy="4.5">o</tspan><tspan x="2" dy="4.5">o</tspan><tspan x="2" dy="4.5">o</tspan><tspan x="2" dy="4.5">o</tspan><tspan x="2" dy="4.5">o</tspan><tspan x="2" dy="4.5">o</tspan><tspan x="2" dy="4.5">o</tspan><tspan x="2" dy="4.5">o</tspan><tspan x="2" dy="4.5">o</tspan><tspan x="2" dy="4.5">o</tspan><tspan x="2" dy="4.5">o</tspan><tspan x="2" dy="4.5">o</tspan><tspan x="2" dy="4.5">o</tspan><tspan x="2" dy="4.5">o</tspan><tspan x="2" dy="4.5">o</tspan></text>
<text class="r" x="9" y="16">N<tspan x="9" dy="4.5">N</tspan><tspan x="9" dy="4.5">DT</tspan><tspan x="9" dy="4.5">VA</tspan><tspan x="9" dy="4.5">VA</tspan><tspan x="9" dy="4.5">VA</tspan><tspan x="9" dy="4.5">VA</tspan><tspan x="9" dy="4.5">VA</tspan><tspan x="9" dy="4.5">VA</tspan><tspan x="9" dy="4.5">DT</tspan><tspan x="9" dy="4.5">N</tspan><tspan x="9" dy="4.5">VA</tspan><tspan x="9" dy="4.5">VA</tspan><tspan x="9" dy="4.5">VA</tspan><tspan x="9" dy="4.5">VA</tspan><tspan x="9" dy="4.5">VA</tspan><tspan x="9" dy="4.5">VA</tspan><tspan x="9" dy="4.5">VA</tspan><tspan x="9" dy="4.5">VA</tspan><tspan x="9" dy="4.5">VA</tspan><tspan x="9" dy="4.5">VA</tspan><tspan x="9" dy="4.5">VA</tspan><tspan x="9" dy="4.5">VA</tspan><tspan x="9" dy="4.5">VA</tspan><tspan x="9" dy="4.5">VA</tspan><tspan x="9" dy="4.5">VA</tspan><tspan x="9" dy="4.5">VA</tspan></text>
<text class="r" x="16" y="16">ID_ACO<tspan x="16" dy="4.5">ID_PCM</tspan><tspan x="16" dy="4.5">DT_ACO</tspan><tspan x="16" dy="4.5">TIPO</tspan><tspan x="16" dy="4.5">PROFISS</tspan><tspan x="16" dy="4.5">QUEIXA</tspan><tspan x="16" dy="4.5">EVOLUCAO</tspan><tspan x="16" dy="4.5">CONDUTA</tspan><tspan x="16" dy="4.5">ENCAMINH</tspan><tspan x="16" dy="4.5">RETORNO</tspan><tspan x="16" dy="4.5">FALTAS</tspan><tspan x="16" dy="4.5">ADESAO</tspan><tspan x="16" dy="4.5">DIETA</tspan><tspan x="16" dy="4.5">ATIV_FIS</tspan><tspan x="16" dy="4.5">TABAGISMO</tspan><tspan x="16" dy="4.5">ETILISMO</tspan><tspan x="16" dy="4.5">MEDIC_01</tspan><tspan x="16" dy="4.5">MEDIC_02</tspan><tspan x="16" dy="4.5">MEDIC_03</tspan><tspan x="16" dy="4.5">DOSE_01</tspan><tspan x="16" dy="4.5">DOSE_02</tspan><tspan x="16" dy="4.5">DOSE_03</tspan><tspan x="16" dy="4.5">INTERC_01</tspan><tspan x="16" dy="4.5">INTERC_02</tspan><tspan x="16" dy="4.5">INTERC_03</tspan><tspan x="16" dy="4.5">RESULT</tspan><tspan x="16" dy="4.5">OBS</tspan></text></g>

<g id="tbque" transform="translate(403,226)"><rect class="bx" width="44" height="89"/><use href="#ic"/><text class="ti" x="6" y="4.2">QUESTION. (TBQUE)</text>
<text class="r" x="2" y="16">P *<tspan x="2" dy="4.5">F *</tspan><tspan x="2" dy="4.5">*</tspan><tspan x="2" dy="4.5">*</tspan><tspan x="2" dy="4.5">*</tspan><tspan x="2" dy="4.5">o</tspan><tspan x="2" dy="4.5">o</tspan><tspan x="2" dy="4.5">o</tspan><tspan x="2" dy="4.5">o</tspan><tspan x="2" dy="4.5">o</tspan><tspan x="2" dy="4.5">o</tspan><tspan x="2" dy="4.5">o</tspan><tspan x="2" dy="4.5">o</tspan><tspan x="2" dy="4.5">o</tspan><tspan x="2" dy="4.5">o</tspan></text>
<text class="r" x="9" y="16">N<tspan x="9" dy="4.5">N</tspan><tspan x="9" dy="4.5">DT</tspan><tspan x="9" dy="4.5">VA</tspan><tspan x="9" dy="4.5">VA</tspan><tspan x="9" dy="4.5">N</tspan><tspan x="9" dy="4.5">N</tspan><tspan x="9" dy="4.5">N</tspan><tspan x="9" dy="4.5">N</tspan><tspan x="9" dy="4.5">N</tspan><tspan x="9" dy="4.5">N</tspan><tspan x="9" dy="4.5">N</tspan><tspan x="9" dy="4.5">N</tspan><tspan x="9" dy="4.5">N</tspan><tspan x="9" dy="4.5">VA</tspan></text>
<text class="r" x="16" y="16">ID_QUE<tspan x="16" dy="4.5">ID_PCM</tspan><tspan x="16" dy="4.5">DT_QUE</tspan><tspan x="16" dy="4.5">TIPO</tspan><tspan x="16" dy="4.5">APLICADOR</tspan><tspan x="16" dy="4.5">PERG_01</tspan><tspan x="16" dy="4.5">PERG_02</tspan><tspan x="16" dy="4.5">PERG_03</tspan><tspan x="16" dy="4.5">PERG_04</tspan><tspan x="16" dy="4.5">PERG_05</tspan><tspan x="16" dy="4.5">PERG_06</tspan><tspan x="16" dy="4.5">PERG_07</tspan><tspan x="16" dy="4.5">PERG_08</tspan><tspan x="16" dy="4.5">ESCORE</tspan><tspan x="16" dy="4.5">OBS</tspan></text></g>
</svg>
